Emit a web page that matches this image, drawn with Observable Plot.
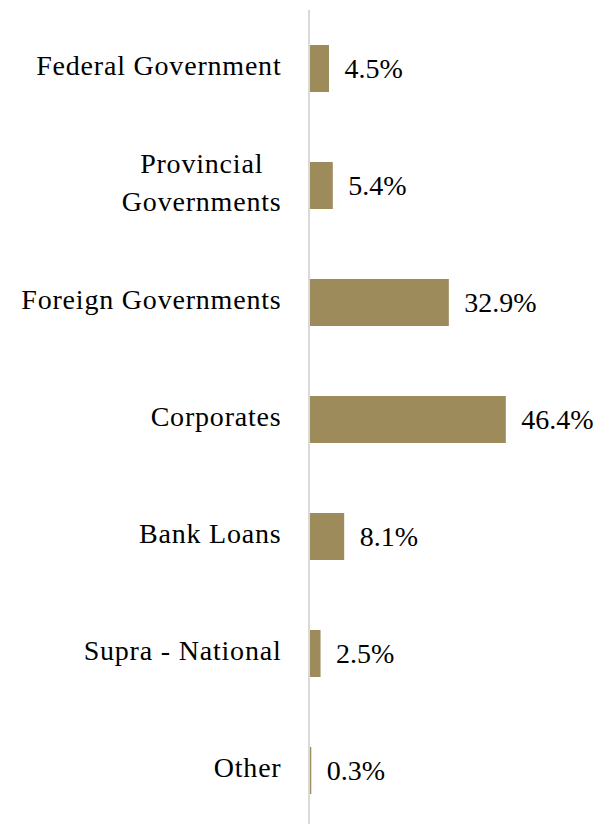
<!DOCTYPE html>
<html>
<head>
<meta charset="utf-8">
<script src="https://cdn.jsdelivr.net/npm/d3@7"></script>
<script src="https://cdn.jsdelivr.net/npm/@observablehq/plot@0.6"></script>
<style>
  html, body { margin: 0; padding: 0; background: #fff; }
  #chart svg { display: block; }
</style>
</head>
<body>
<div id="chart"></div>
<script>
const categories = ["Federal Government", "Provincial\nGovernments", "Foreign Governments", "Corporates", "Bank Loans", "Supra - National", "Other"];
const values = [4.5, 5.4, 32.9, 46.4, 8.1, 2.5, 0.3];
const valueLabels = ["4.5%", "5.4%", "32.9%", "46.4%", "8.1%", "2.5%", "0.3%"];

const data = categories.map((c, i) => ({category: c, value: values[i], label: valueLabels[i]}));

const chart = Plot.plot({
  width: 605,
  height: 824,
  marginTop: 10,
  marginBottom: 0,
  marginLeft: 310,
  marginRight: 0,
  style: {fontFamily: "'Liberation Serif', serif", color: "#000", background: "#fff"},
  x: {domain: [0, 50], range: [310, 521], axis: null},
  y: {domain: categories, range: [8.25, 830.75], padding: 0.6, paddingOuter: 0.3, axis: null},
  marks: [
    Plot.barX(data, {x: "value", y: "category", fill: "#9e8b5c"}),
    Plot.ruleX([0], {stroke: "#d9d9d9", strokeWidth: 2, dx: -1.5}),
    Plot.text(data, {x: 0, y: "category", text: "category", textAnchor: "end", dx: -29, dy: -6, fontSize: 28, lineHeight: 1.36, fill: "#000"}),
    Plot.text(data, {x: "value", y: "category", text: "label", textAnchor: "start", dx: 15, fontSize: 28, fill: "#000"})
  ]
});
document.getElementById("chart").appendChild(chart);
const catG = chart.querySelectorAll("g[aria-label='text']")[0];
catG.setAttribute("letter-spacing", "0.8px");
// multi-line category labels are centred on their widest line, right edge kept
catG.querySelectorAll("text").forEach(t => {
  const spans = t.querySelectorAll("tspan");
  if (spans.length > 1) {
    const w = Math.max(...Array.from(spans, s => s.getComputedTextLength()));
    t.setAttribute("text-anchor", "middle");
    t.setAttribute("transform", (t.getAttribute("transform") || "") + ` translate(${-w / 2},0)`);
  }
});
</script>
</body>
</html>
